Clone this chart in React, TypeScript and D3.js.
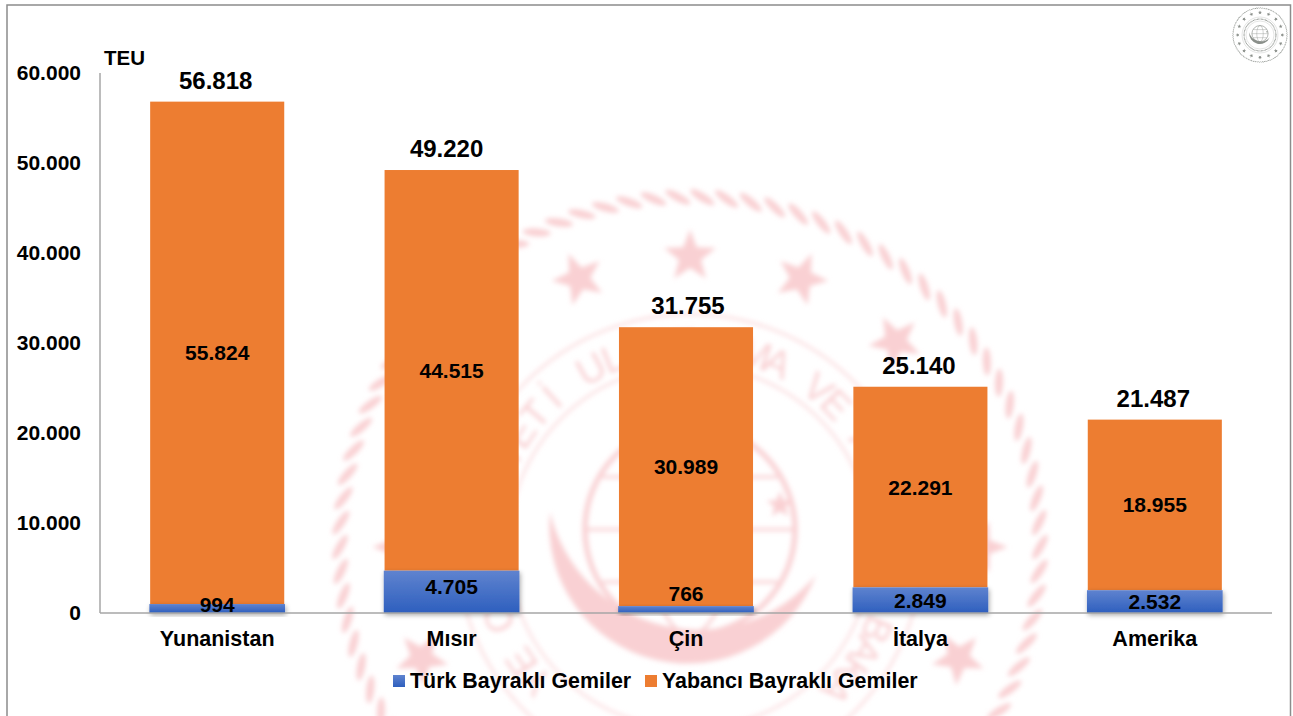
import React from "react";
import * as d3 from "d3";

const categories = ["Yunanistan", "Mısır", "Çin", "İtalya", "Amerika"];
const turkFlag = [994, 4705, 766, 2849, 2532];
const foreignFlag = [55824, 44515, 30989, 22291, 18955];
const totals = [56818, 49220, 31755, 25140, 21487];
const yTicks = [0, 10000, 20000, 30000, 40000, 50000, 60000];
const seriesNames = ["Türk Bayraklı Gemiler", "Yabancı Bayraklı Gemiler"];
const unitLabel = "TEU";
const sealText = "TÜRKİYE CUMHURİYETİ ULAŞTIRMA VE ALTYAPI BAKANLIĞI";

const W = 1293, H = 716;
const FONT = "'Liberation Sans', Arial, sans-serif";
const fmt = (v: number) => d3.format(",")(v).replace(/,/g, ".");

const x = d3.scaleBand<string>().domain(categories).range([100, 1272]).paddingInner(0.428).paddingOuter(0.214);
const y = d3.scaleLinear().domain([0, 60000]).range([613, 73]);

// hand placement of labels, as in the original slide
const blueLift = (v: number) => (v < 1000 ? (v < 800 ? 16 : 4) : v > 4000 ? 5 : 0);
const totalShift = [-1.5, -5, 2, -1.5, -1.5];

function starPath(cx: number, cy: number, r: number, rot = -90) {
  const pts = d3.range(10).map((i) => {
    const a = ((rot + i * 36) * Math.PI) / 180;
    const rr = i % 2 ? r * 0.42 : r;
    return `${cx + rr * Math.cos(a)},${cy + rr * Math.sin(a)}`;
  });
  return `M${pts.join("L")}Z`;
}

function Emblem({ cx, cy, r, color, soft, strokeK = 1, lettered = false }: any) {
  const rope = d3.range(90).map((i) => (i * 360) / 90);
  const stars = d3.range(16).map((i) => -90 + i * 22.5);
  const pol = (rad: number, deg: number) => [rad * Math.cos((deg * Math.PI) / 180), rad * Math.sin((deg * Math.PI) / 180)];
  const k = r / 100;
  // the seal runs off the page at the bottom: letters that would be cut by the edge are left out
  const letters = Array.from(sealText)
    .map((ch, i) => ({ ch, i, a: 195 + i * 6.8 }))
    .filter((l) => l.ch !== " " && cy - k * 66 * Math.cos((l.a * Math.PI) / 180) < H - 2);
  return (
    <g transform={`translate(${cx},${cy}) scale(${k})`} filter={soft ? `url(#${soft})` : undefined}>
      {rope.map((a) => {
        const [px, py] = pol(100, a);
        return <ellipse key={a} cx={px} cy={py} rx={4} ry={1.15} fill={color} transform={`rotate(${a + 120} ${px} ${py})`} />;
      })}
      {stars.map((a) => {
        const [px, py] = pol(83, a);
        return <path key={a} d={starPath(px, py, 7.8, a)} fill={color} />;
      })}
      <circle r={66.5} fill="none" stroke={color} strokeWidth={0.55 * strokeK} />
      <circle r={52} fill="none" stroke={color} strokeWidth={0.55 * strokeK} />
      {lettered ? (
        letters.map((l) => (
          <text key={l.i} transform={`rotate(${l.a}) translate(0,-54.5)`} textAnchor="middle" fontFamily={FONT} fontSize={11} fill={color}>
            {l.ch}
          </text>
        ))
      ) : (
        <circle r={59} fill="none" stroke={color} strokeWidth={4} strokeDasharray="3 2" />
      )}
      <path d="M-40,-10 A39.4,39.4 0 0,0 36,8 A43.7,43.7 0 0,1 -40,-10Z" fill={color} />
      <circle cx={0} cy={-5} r={30} fill="none" stroke={color} strokeWidth={1.5 * strokeK} />
      <ellipse cx={0} cy={-5} rx={12} ry={30} fill="none" stroke={color} strokeWidth={0.9 * strokeK} />
      <path d="M-30,-5H30M-25,-20H25M-25,10H25" fill="none" stroke={color} strokeWidth={0.9 * strokeK} />
      <path d={starPath(25.7, -12, 4)} fill={color} />
    </g>
  );
}

export default function App() {
  const bw = x.bandwidth();
  return (
    <svg width={W} height={H} viewBox={`0 0 ${W} ${H}`} style={{ position: "fixed", left: 0, top: 0, background: "#fff" }}>
      <defs>
        <linearGradient id="blueGrad" x1="0" y1="0" x2="0" y2="1">
          <stop offset="0" stopColor="#5f83cf" />
          <stop offset="1" stopColor="#2e5fbe" />
        </linearGradient>
        <filter id="barShadow" x="-10%" y="-30%" width="120%" height="170%">
          <feDropShadow dx="1" dy="2" stdDeviation="2.5" floodColor="#000" floodOpacity="0.35" />
        </filter>
        <filter id="soft"><feGaussianBlur stdDeviation="0.7" /></filter>
        <filter id="softSmall"><feGaussianBlur stdDeviation="0.3" /></filter>
      </defs>

      <rect x={7} y={5} width={1283.5} height={730} fill="#fff" stroke="#8c8c8c" strokeWidth={1.5} />

      <Emblem cx={690} cy={547} r={350} color="#f9d0d3" soft="soft" lettered />
      <Emblem cx={1260} cy={35} r={27} color="#8a8f8a" soft="softSmall" strokeK={1.6} />

      {/* axes */}
      <line x1={100} x2={100} y1={y(60000)} y2={y(0)} stroke="#a6a6a6" strokeWidth={1.5} />
      {yTicks.map((t) => (
        <text key={t} x={81} y={y(t)} dy="0.32em" textAnchor="end" fontFamily={FONT} fontWeight={700} fontSize={21} fill="#000">
          {fmt(t)}
        </text>
      ))}
      <text x={104} y={65} fontFamily={FONT} fontWeight={700} fontSize={20.5} fill="#000">{unitLabel}</text>

      {/* bars */}
      {categories.map((c, i) => {
        const bx = x(c)!;
        return (
          <g key={c}>
            <rect x={bx} y={y(turkFlag[i] + foreignFlag[i])} width={bw} height={y(turkFlag[i]) - y(turkFlag[i] + foreignFlag[i])} fill="#ed7d31" />
            <rect x={bx - 0.8} y={y(turkFlag[i])} width={bw + 1.6} height={y(0) - y(turkFlag[i])} fill="url(#blueGrad)" filter="url(#barShadow)" />
          </g>
        );
      })}
      <line x1={100} x2={1272} y1={y(0)} y2={y(0)} stroke="#a6a6a6" strokeWidth={1.5} />

      {/* labels */}
      {categories.map((c, i) => {
        const cx = x(c)! + bw / 2;
        const top = y(turkFlag[i] + foreignFlag[i]);
        return (
          <g key={c} fontFamily={FONT} fontWeight={700} fill="#000" textAnchor="middle">
            <text x={cx + totalShift[i]} y={top - 13} fontSize={24}>{fmt(totals[i])}</text>
            <text x={cx} y={(top + y(turkFlag[i])) / 2} dy="0.36em" fontSize={21}>{fmt(foreignFlag[i])}</text>
            <text x={cx} y={(y(0) + y(turkFlag[i])) / 2 - blueLift(turkFlag[i])} dy="0.36em" fontSize={21}>{fmt(turkFlag[i])}</text>
            <text x={cx} y={638} dy="0.36em" fontSize={21.5}>{c}</text>
          </g>
        );
      })}

      {/* legend */}
      <g fontFamily={FONT} fontWeight={700} fontSize={21.4} fill="#000">
        <rect x={393} y={675} width={12} height={12} fill="url(#blueGrad)" />
        <text x={410} y={688}>{seriesNames[0]}</text>
        <rect x={645} y={675} width={12} height={12} fill="#ed7d31" />
        <text x={662} y={688}>{seriesNames[1]}</text>
      </g>
    </svg>
  );
}
